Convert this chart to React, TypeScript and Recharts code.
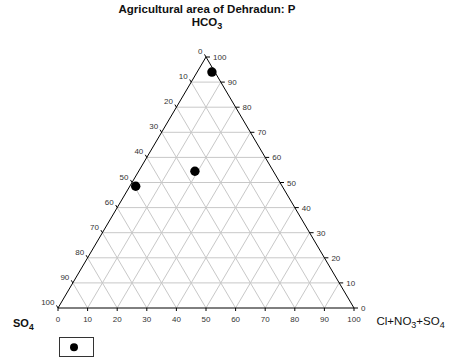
import React from "react";
import { ScatterChart, Scatter, XAxis, YAxis, ReferenceLine } from "recharts";

// samples (percent)
const hco3Values = [94, 54.5, 48.5];
const clValues = [5, 19, 2];

const tickValues = [0, 10, 20, 30, 40, 50, 60, 70, 80, 90, 100];
const gridLevels = [10, 20, 30, 40, 50, 60, 70, 80, 90];

const FONT = "'Liberation Sans', Arial, sans-serif";
const GRID = "#c8c8c8";

// ternary -> cartesian (x: 0..100 along the base, y: HCO3 height)
const toXY = (hco3: number, cl: number) => ({ x: cl + hco3 / 2, y: hco3 });

const points = hco3Values.map((h, i) => toXY(h, clValues[i]));

const bottomTicks = tickValues.map((v) => ({ x: v, y: 0, label: v }));
const leftTicks = tickValues.map((v) => ({ x: (100 - v) / 2, y: 100 - v, label: v }));
const rightTicks = tickValues.map((v) => ({ x: 100 - v / 2, y: v, label: v }));

const BottomTick = (p: any) => (
  <g>
    <line x1={p.cx} y1={p.cy} x2={p.cx} y2={p.cy + 3} stroke="#000" />
    <text x={p.cx} y={p.cy + 13.5} textAnchor="middle" fontSize={8} fill="#333" fontFamily={FONT}>
      {p.payload.label}
    </text>
  </g>
);

const LeftTick = (p: any) => (
  <g>
    <line x1={p.cx} y1={p.cy} x2={p.cx - 1.5} y2={p.cy - 2.6} stroke="#000" />
    <text x={p.cx - 3.5} y={p.cy - 3} textAnchor="end" fontSize={8} fill="#333" fontFamily={FONT}>
      {p.payload.label}
    </text>
  </g>
);

const RightTick = (p: any) => (
  <g>
    <line x1={p.cx} y1={p.cy} x2={p.cx + 4} y2={p.cy} stroke="#000" />
    <text x={p.cx + 7} y={p.cy + 3} textAnchor="start" fontSize={8} fill="#333" fontFamily={FONT}>
      {p.payload.label}
    </text>
  </g>
);

const Dot = (p: any) => <circle cx={p.cx} cy={p.cy} r={4.7} fill="#000" />;

export default function App() {
  const segs: { a: { x: number; y: number }; b: { x: number; y: number } }[] = [];
  for (const g of gridLevels) {
    segs.push({ a: { x: g / 2, y: g }, b: { x: 100 - g / 2, y: g } });
    segs.push({ a: { x: g, y: 0 }, b: { x: g + (100 - g) / 2, y: 100 - g } });
    segs.push({ a: { x: 100 - g, y: 0 }, b: { x: (100 - g) / 2, y: 100 - g } });
  }
  const edges = [
    { a: { x: 0, y: 0 }, b: { x: 100, y: 0 } },
    { a: { x: 0, y: 0 }, b: { x: 50, y: 100 } },
    { a: { x: 100, y: 0 }, b: { x: 50, y: 100 } },
  ];

  return (
    <div style={{ position: "absolute", left: 0, top: 0, width: 449, height: 362, background: "#fff" }}>
      <ScatterChart width={449} height={362} margin={{ top: 57, right: 95, bottom: 54, left: 58 }}>
        <XAxis type="number" dataKey="x" domain={[0, 100]} hide />
        <YAxis type="number" dataKey="y" domain={[0, 100]} hide />
        {segs.map((s, i) => (
          <ReferenceLine key={"g" + i} segment={[s.a, s.b]} stroke={GRID} strokeWidth={1} ifOverflow="visible" />
        ))}
        {edges.map((s, i) => (
          <ReferenceLine key={"e" + i} segment={[s.a, s.b]} stroke="#000" strokeWidth={1} ifOverflow="visible" />
        ))}
        <Scatter data={bottomTicks} shape={BottomTick} isAnimationActive={false} />
        <Scatter data={leftTicks} shape={LeftTick} isAnimationActive={false} />
        <Scatter data={rightTicks} shape={RightTick} isAnimationActive={false} />
        <Scatter data={points} shape={Dot} isAnimationActive={false} />
      </ScatterChart>
      <svg width={449} height={362} style={{ position: "absolute", left: 0, top: 0, pointerEvents: "none" }}>
        <text x={207} y={12.5} textAnchor="middle" fontSize={11.5} fontWeight="bold" fontFamily={FONT} fill="#111">
          Agricultural area of Dehradun: P
        </text>
        <text x={207} y={26} textAnchor="middle" fontSize={11.5} fontWeight="bold" fontFamily={FONT} fill="#111">
          HCO<tspan dy={3} fontSize={9}>3</tspan>
        </text>
        <text x={13} y={326.5} fontSize={11} fontWeight="bold" fontFamily={FONT} fill="#111">
          SO<tspan dy={3} fontSize={8.5}>4</tspan>
        </text>
        <text x={376.5} y={325} fontSize={11.5} fontFamily={FONT} fill="#111">
          Cl+NO<tspan dy={3} fontSize={9}>3</tspan>
          <tspan dy={-3}>+SO</tspan>
          <tspan dy={3} fontSize={9}>4</tspan>
        </text>
        <rect x={59.5} y={337.5} width={34} height={19} fill="none" stroke="#333" strokeWidth={1} />
        <circle cx={74} cy={347.3} r={4} fill="#000" />
      </svg>
    </div>
  );
}
